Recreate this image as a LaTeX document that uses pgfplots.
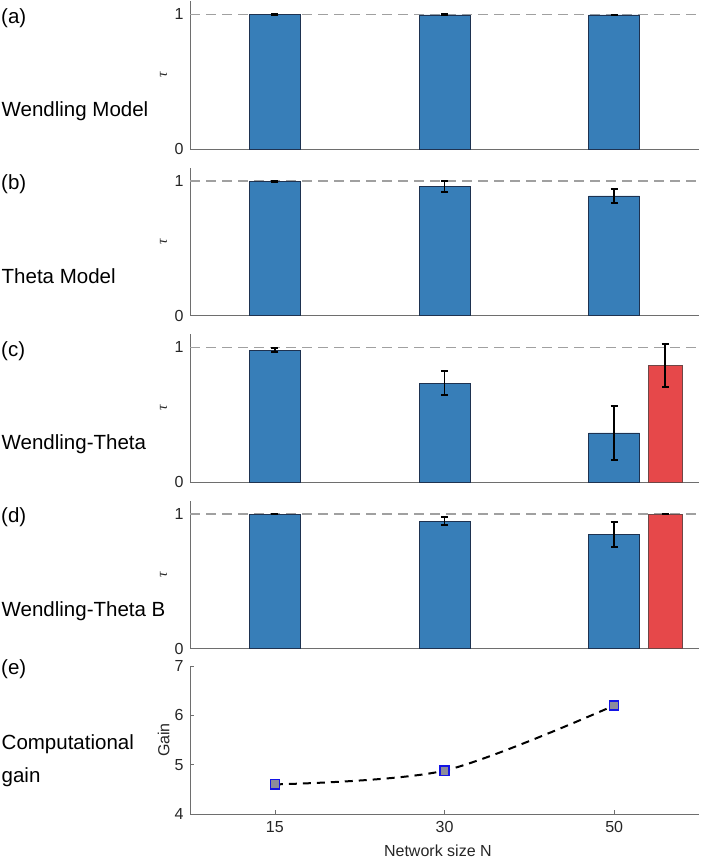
\documentclass[border=0pt]{standalone}
\usepackage{fontspec}
\setmainfont{Liberation Sans}
\newfontfamily\taufont{Liberation Serif}
\usepackage{pgfplots}
\pgfplotsset{compat=1.18}

\definecolor{barblue}{RGB}{55,126,184}
\definecolor{baredge}{RGB}{30,50,80}
\definecolor{barred}{RGB}{230,72,74}
\definecolor{rededge}{RGB}{110,70,70}
\definecolor{axgray}{RGB}{110,110,110}
\definecolor{txtgray}{RGB}{38,38,38}
\definecolor{refgray}{RGB}{160,160,160}
\definecolor{markfill}{RGB}{140,140,155}
\definecolor{markedge}{RGB}{20,20,230}

\pgfplotsset{
  panel/.style={
    scale only axis, width=509pt, height=148pt,
    xmin=0.5, xmax=3.5,
    axis lines=left, axis line style={-, axgray, line width=0.8pt},
    tick align=inside, major tick length=4pt,
    tick style={axgray, line width=0.6pt},
    /pgf/number format/assume math mode=true,
    tick label style={font=\fontsize{16}{16}\selectfont, text=txtgray},
    yticklabel style={xshift=-3pt},
    every axis y label/.style={at={(axis description cs:-0.052,0.5)},
      rotate=90, anchor=center, text=txtgray},
  },
  barpanel/.style={
    panel, ymin=0, ymax=1.1, ytick={0,1}, xtick=\empty,
    ylabel={\taufont\itshape\fontsize{15}{15}\selectfont τ},
  },
  refline/.style={refgray, line width=1.4pt, dash pattern=on 10pt off 6pt, forget plot},
  bluebar/.style={ybar, bar width=0.3, bar shift=0pt, fill=barblue, draw=baredge, line width=0.7pt,
    error bars/.cd, y dir=both, y explicit,
    error bar style={black, line width=1.8pt},
    error mark options={rotate=90, mark size=3.5pt, black, line width=1.8pt}},
  redbar/.style={ybar, bar width=0.2, bar shift=0pt, fill=barred, draw=rededge, line width=0.7pt,
    error bars/.cd, y dir=both, y explicit,
    error bar style={black, line width=1.8pt},
    error mark options={rotate=90, mark size=3.5pt, black, line width=1.8pt}},
}

\begin{document}
\begin{tikzpicture}[x=1pt,y=1pt]
\useasboundingbox (0,0) rectangle (701,-859);

% (a) Wendling Model
\begin{axis}[barpanel, at={(190pt,-149pt)}, anchor=south west]
\addplot[refline] coordinates {(0.5,1) (3.5,1)};
\addplot[bluebar] coordinates {(1,0.998) +- (0,0.004) (2,0.997) +- (0,0.004) (3,0.996) +- (0,0.004)};
\end{axis}

% (b) Theta Model
\begin{axis}[barpanel, at={(190pt,-315.5pt)}, anchor=south west]
\addplot[refline] coordinates {(0.5,1) (3.5,1)};
\addplot[bluebar] coordinates {(1,0.995) +- (0,0.006) (2,0.958) +- (0,0.042) (3,0.889) +- (0,0.052)};
\end{axis}

% (c) Wendling-Theta
\begin{axis}[barpanel, at={(190pt,-482pt)}, anchor=south west]
\addplot[refline] coordinates {(0.5,1) (3.5,1)};
\addplot[bluebar] coordinates {(1,0.98) +- (0,0.015) (2,0.735) +- (0,0.09) (3,0.365) +- (0,0.2)};
\addplot[redbar] coordinates {(3.3,0.868) +- (0,0.16)};
\end{axis}

% (d) Wendling-Theta B
\begin{axis}[barpanel, at={(190pt,-648.5pt)}, anchor=south west]
\addplot[refline] coordinates {(0.5,1) (3.5,1)};
\addplot[bluebar] coordinates {(1,0.999) +- (0,0.003) (2,0.946) +- (0,0.03) (3,0.848) +- (0,0.095)};
\addplot[redbar] coordinates {(3.3,0.999) +- (0,0.003)};
\end{axis}

% (e) Computational gain
\begin{axis}[panel, at={(190pt,-814pt)}, anchor=south west,
    ymin=4, ymax=7, ytick={4,5,6,7},
    xtick={1,2,3}, xticklabels={15,30,50},
    xticklabel style={yshift=-4pt},
    ylabel={\fontsize{16}{16}\selectfont Gain},
    xlabel={\fontsize{16}{16}\selectfont Network size N},
    every axis x label/.style={at={(axis description cs:0.487,-0.288)}, anchor=base, text=txtgray},
]
\addplot[black, line width=2pt, dash pattern=on 8pt off 6pt, smooth, no markers]
  coordinates {(1,4.6) (2,4.88) (3,6.2)};
\addplot[only marks, mark=square*, mark size=4.6pt,
    mark options={fill=markfill, draw=markedge, line width=1.3pt}]
  coordinates {(1,4.6) (2,4.88) (3,6.2)};
\end{axis}

% panel captions
\begin{scope}[every node/.style={anchor=base west, inner sep=0pt, font=\fontsize{20.5}{24}\selectfont, text=black}]
\node at (1,-23.3) {(a)};
\node at (1.5,-116.7) {Wendling Model};
\node at (1,-189.8) {(b)};
\node at (1.5,-283.2) {Theta Model};
\node at (1,-356.3) {(c)};
\node at (1.5,-449.7) {Wendling-Theta};
\node at (1,-522.8) {(d)};
\node at (1.5,-616.2) {Wendling-Theta B};
\node at (1,-674) {(e)};
\node at (1.5,-749) {Computational};
\node at (1.5,-782) {gain};
\end{scope}
\end{tikzpicture}
\end{document}
